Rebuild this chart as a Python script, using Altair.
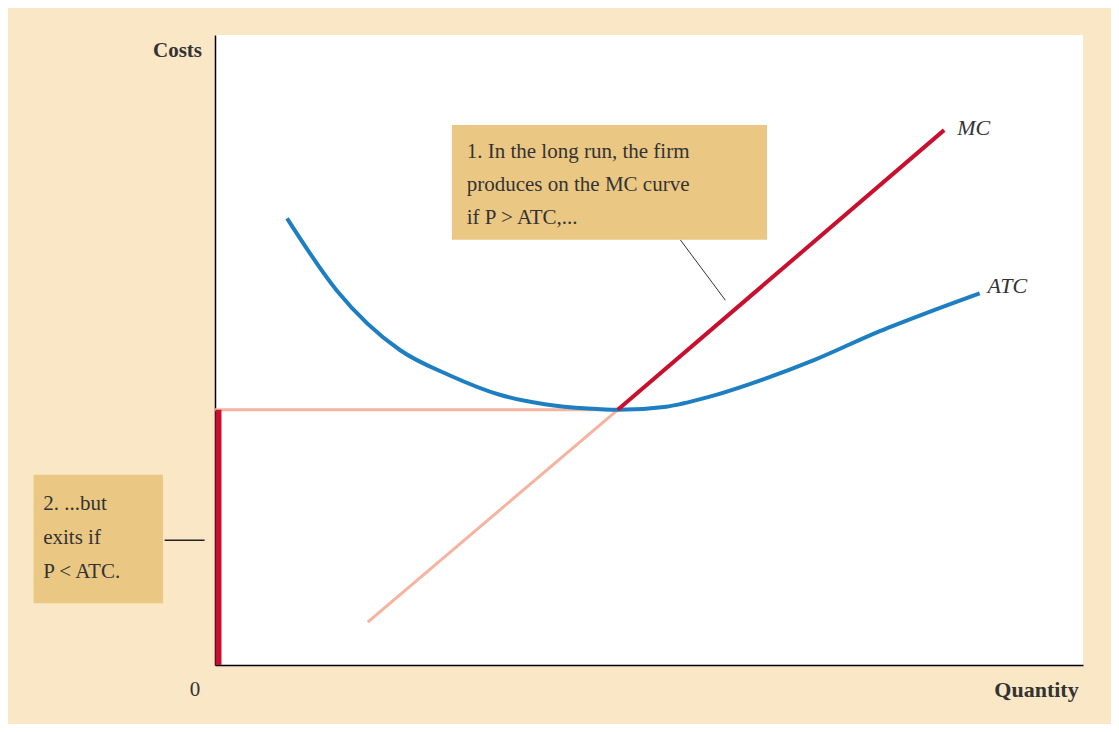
import altair as alt
import pandas as pd

# values (quantity 0-100, costs 0-100)
atc_q = [8.3, 14, 21.3, 27, 32.8, 38, 43, 46.4, 52, 57, 61.6, 69, 76.6, 82, 88.1]
atc_c = [70.9, 59.5, 50.0, 46.0, 42.9, 41.4, 40.7, 40.5, 41.0, 42.6, 44.6, 48.4, 53.0, 55.9, 59.0]
mc_q = [46.4, 84.0]
mc_c = [40.5, 84.9]
mc_low_q = [17.6, 46.4]
mc_low_c = [6.8, 40.5]
min_atc = 40.5

atc = pd.DataFrame({"q": atc_q, "c": atc_c})
mc = pd.DataFrame({"q": mc_q, "c": mc_c})
mc_low = pd.DataFrame({"q": mc_low_q, "c": mc_low_c})

X = alt.Scale(domain=[0, 100])
Y = alt.Scale(domain=[0, 100])
ax = alt.Axis(labels=False, ticks=False, grid=False, title=None, domainColor="black", domainWidth=1.5)
FONT = "Liberation Sans Narrow"

def line(df, color, width):
    return alt.Chart(df).mark_line(color=color, strokeWidth=width, clip=False, interpolate="monotone").encode(
        x=alt.X("q:Q", scale=X, axis=ax), y=alt.Y("c:Q", scale=Y, axis=ax)
    )

def seg(q1, c1, q2, c2, color, width):
    df = pd.DataFrame({"q": [q1], "c": [c1], "q2": [q2], "c2": [c2]})
    return alt.Chart(df).mark_rule(color=color, strokeWidth=width, clip=False).encode(
        x=alt.X("q:Q", scale=X, axis=ax), y=alt.Y("c:Q", scale=Y, axis=ax), x2="q2", y2="c2"
    )

def box(q1, c1, q2, c2):
    df = pd.DataFrame({"q": [q1], "c": [c1], "q2": [q2], "c2": [c2]})
    return alt.Chart(df).mark_rect(color="#ebc784", clip=False).encode(
        x=alt.X("q:Q", scale=X, axis=ax), y=alt.Y("c:Q", scale=Y, axis=ax), x2="q2", y2="c2"
    )

def text(q, c, s, align="left", italic=False, bold=False, size=21):
    df = pd.DataFrame({"q": [q], "c": [c], "t": [s]})
    return alt.Chart(df).mark_text(
        align=align, baseline="middle", fontSize=size, font=FONT,
        fontStyle="italic" if italic else "normal", fontWeight="bold" if bold else "normal",
        color="#333", clip=False,
    ).encode(x=alt.X("q:Q", scale=X, axis=ax), y=alt.Y("c:Q", scale=Y, axis=ax), text="t:N")

layers = [
    seg(0, min_atc, 46.4, min_atc, "#f5b3a0", 3),
    line(mc_low, "#f5b3a0", 3),
    seg(0.4, 0, 0.4, min_atc, "#c8102e", 6),
    line(atc, "#1d7fc2", 4),
    line(mc, "#c8102e", 4),
    seg(53.6, 67.5, 58.8, 57.9, "#333", 1),
    seg(-5.8, 19.8, -1.2, 19.8, "#222", 1.5),
    box(27.3, 67.5, 63.6, 85.7),
    box(-20.9, 9.8, -6.0, 30.2),
    text(29.0, 81.5, "1. In the long run, the firm"),
    text(29.0, 76.2, "produces on the MC curve"),
    text(29.0, 70.9, "if P > ATC,..."),
    text(-19.8, 25.6, "2. ...but"),
    text(-19.8, 20.2, "exits if"),
    text(-19.8, 14.8, "P < ATC."),
    text(85.5, 85.2, "MC", italic=True, size=22),
    text(89.0, 60.2, "ATC", italic=True, size=22),
    text(-1.5, 97.5, "Costs", align="right", bold=True, size=21),
    text(-2.3, -4.0, "0", align="center"),
    text(99.5, -4.0, "Quantity", align="right", bold=True, size=22),
]

chart = (
    alt.layer(*layers)
    .properties(
        width=868, height=630, background="#f9e7c6",
        autosize=alt.AutoSizeParams(type="none"),
        padding={"left": 207, "top": 27, "right": 28, "bottom": 59},
    )
    .configure_view(fill="white", stroke=None)
)

chart.save("out.html", embed_options={"renderer": "svg", "actions": False})
